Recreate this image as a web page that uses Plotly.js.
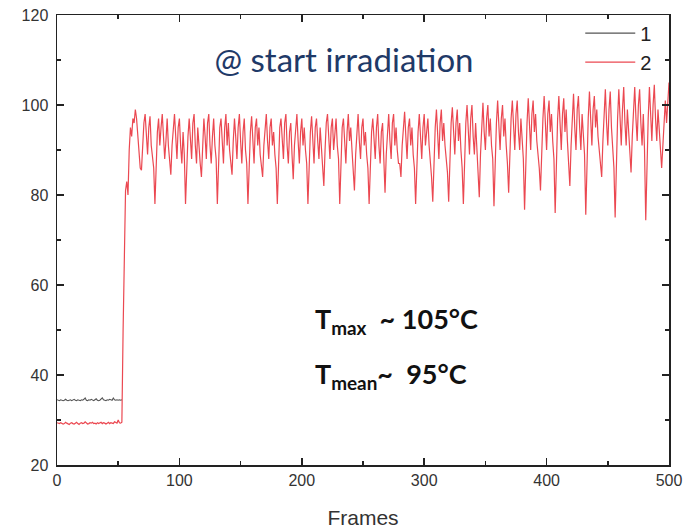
<!DOCTYPE html>
<html>
<head>
<meta charset="utf-8">
<script src="https://cdn.plot.ly/plotly-3.0.1.min.js"></script>
<style>html,body{margin:0;padding:0;background:#fff;}#chart{width:693px;height:530px;}</style>
</head>
<body>
<div id="chart"></div>
<script>
// Series 1 (grey): frames 0..53
const temp1 = [
  34.5,34.4,34.3,34.5,34.4,34.3,34.4,34.6,34.4,34.3,
  34.4,34.5,34.3,34.4,34.6,34.4,34.3,34.5,34.4,34.3,
  34.5,34.4,34.6,34.9,34.4,34.3,34.5,34.4,34.6,34.4,
  34.3,34.5,34.7,34.4,34.3,34.4,34.6,34.9,34.5,34.4,
  34.3,34.5,34.4,34.6,34.5,34.4,34.9,34.5,34.4,34.5,
  34.4,34.5,34.4,34.5
];
// Series 2 (red): frames 0..500
const temp2 = [
  29.4,29.3,29.2,29.4,29.3,29.1,29.2,29.5,29.3,29.2,
  29.0,29.3,29.4,29.2,29.1,29.3,29.5,29.2,29.0,29.3,
  29.4,29.2,29.3,29.6,29.3,29.1,29.2,29.4,29.3,29.5,
  29.2,29.3,29.1,29.4,29.2,29.3,29.5,29.2,29.4,29.3,
  29.1,29.3,29.5,29.2,29.4,29.3,29.2,29.6,29.4,29.3,
  30.0,29.4,29.3,29.5,
  50,72,81,83,80,90,
  95,93,97,96,99,97,93,90,86,
  85.5,92,96,98,94,89,95,97.5,91,88,86,
  78,87,94,97,91,95,98,93,88,92,97,91,88,
  84.5,91,96,98,93,88,95,97,91,87,94,89,
  78,86,93,97,92,88,96,98,91,87,95,90,87,
  84,91,97,93,88,96,98,91,87,93,97,91,88,
  78,88,95,97,91,87,95,98,91,96,90,87,
  84.5,92,97,93,88,95,98,92,87,94,97,90,87,
  78,87,94,97.5,91,87,95,97,91,95,89,87,
  84,91,96,98,92,88,95,97,91,94,89,86,
  78,88,95,97,92,88,96,98,91,87,94,96,89,
  83.5,91,96,98,92,87,94,97,91,95,90,87,
  78,87,94,97.5,91,87,95,97,92,88,95,90,87,
  82,90,96,98,92,88,95,97,90,94,97,91,88,
  78,88,95,97,91,87,94,98,92,95,90,86,
  81,89,95,98,92,88,95,97,91,94,89,86,
  78,87,94,97,92,88,95,98,91,87,94,96,88,
  80.5,89,95,98,92,88,96,98,91,95,90,87,87,
  84,91,96,98.5,93,88,95,97,91,95,89,86,
  78,87,94,98,92,88,95,98,91,95,97,91,88,84,
  78.5,88,95,99,93,88,96,99,92,96,91,88,85,
  78.5,88,96,99.5,93,89,96,99,92,96,90,86,
  78,89,96,100,94,89,97,100,93,89,96,91,87,
  79.5,89,96,100.5,94,90,97,100,93,97,91,88,
  77.5,88,96,101,94,90,97,100,93,97,91,87,
  80.5,90,97,101,94,90,98,101,94,90,97,92,88,
  76.7,88,96,101.5,95,90,98,101,94,98,92,89,86,
  81,90,97,102,95,90,98,101,94,98,92,88,
  76,88,97,102,95,90,98,101.5,94,99,92,88,
  82,91,98,102.5,95,90,99,102,95,90,98,93,89,
  75.6,88,97,103,96,91,99,102,95,99,93,90,87,
  84,92,99,103.5,96,91,99,103,95,90,86,
  75,88,97,103.5,97,91,99,104,96,91,99,94,90,
  85,93,99,104,97,92,100,103.5,96,91,98,90,
  74.4,88,97,104,97,92,100,104.5,97,92,99,94,90,
  86,91,97,101,96,100,105
];
const frames1 = temp1.map((_, i) => i);
const frames2 = temp2.map((_, i) => i);
const seriesNames = ['1', '2'];
const xTicks = [0, 100, 200, 300, 400, 500];
const yTicks = [20, 40, 60, 80, 100, 120];

const traces = [
  {x: frames1, y: temp1, type: 'scatter', mode: 'lines', name: seriesNames[0],
   line: {color: '#555555', width: 1.1}},
  {x: frames2, y: temp2, type: 'scatter', mode: 'lines', name: seriesNames[1],
   line: {color: 'rgba(232,40,50,0.85)', width: 1.2}}
];

const axisCommon = {
  showgrid: false, zeroline: false, showline: true, linecolor: '#222', linewidth: 1.5,
  ticks: 'inside', ticklen: 7, tickwidth: 1.5, tickcolor: '#222', mirror: 'ticks',
  tickfont: {family: 'Liberation Sans, Arial, sans-serif', size: 16, color: '#333'}
};

const layout = {
  width: 693, height: 530,
  margin: {l: 57, r: 24, t: 15, b: 65},
  paper_bgcolor: '#fff', plot_bgcolor: '#fff',
  title: {text: '@ start irradiation', xref: 'paper', yref: 'paper', x: 0.469, y: 0.9,
          xanchor: 'center', yanchor: 'middle',
          font: {family: 'Lato, Open Sans, sans-serif', size: 33, color: '#1f3a68'}},
  xaxis: Object.assign({}, axisCommon, {
    range: [0, 500], tickvals: xTicks, ticktext: xTicks.map(String),
    minor: {ticks: 'inside', ticklen: 4, tickwidth: 1.5, tickcolor: '#222', dtick: 50, tick0: 0},
    title: {text: 'Frames', standoff: 22, font: {family: 'Liberation Sans, Arial, sans-serif', size: 21, color: '#333'}}
  }),
  yaxis: Object.assign({}, axisCommon, {
    range: [20, 120], tickvals: yTicks, ticktext: yTicks.map(String),
    ticklabelstandoff: 4,
    minor: {ticks: 'inside', ticklen: 4, tickwidth: 1.5, tickcolor: '#222', dtick: 10, tick0: 0}
  }),
  showlegend: true,
  legend: {x: 0.855, y: 1.003, xanchor: 'left', yanchor: 'top', bgcolor: 'rgba(0,0,0,0)',
           itemwidth: 50,
           font: {family: 'Liberation Sans, Arial, sans-serif', size: 20, color: '#222'}},
  annotations: [
    {xref: 'paper', yref: 'paper', x: 0.418, y: 0.322, xanchor: 'left', yanchor: 'middle', showarrow: false,
     text: '<b>T<sub>max</sub>  ~ 105°C</b>', font: {family: 'Lato, sans-serif', size: 27, color: '#111'}},
    {xref: 'paper', yref: 'paper', x: 0.418, y: 0.2, xanchor: 'left', yanchor: 'middle', showarrow: false,
     text: '<b>T<sub>mean</sub>~  95°C</b>', font: {family: 'Lato, sans-serif', size: 27, color: '#111'}}
  ]
};

Plotly.newPlot('chart', traces, layout, {staticPlot: true, displayModeBar: false});
</script>
</body>
</html>
